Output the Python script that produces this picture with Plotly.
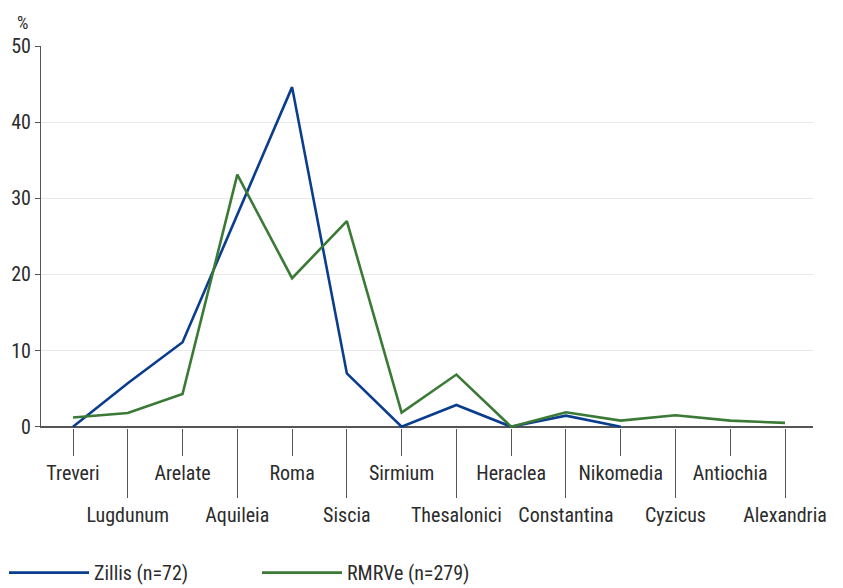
import plotly.graph_objects as go

categories = ["Treveri", "Lugdunum", "Arelate", "Aquileia", "Roma", "Siscia", "Sirmium",
              "Thesalonici", "Heraclea", "Constantina", "Nikomedia", "Cyzicus", "Antiochia", "Alexandria"]
zillis = [0.0, 5.7, 11.1, 27.9, 44.6, 7.0, 0.0, 2.85, 0.0, 1.45, 0.0, None, None, None]
rmrve = [1.2, 1.8, 4.3, 33.1, 19.5, 27.0, 1.85, 6.85, 0.0, 1.9, 0.8, 1.5, 0.8, 0.5]
y_ticks = [0, 10, 20, 30, 40, 50]

W, H = 843, 588
x_left, x_right = 41, 813
y_top, y_zero = 46, 427
px_per_unit = (y_zero - y_top) / 50.0
y_min = -0.17
plot_bottom = y_zero - y_min * px_per_unit
spacing = (785 - 73) / 13.0
x_range = [(x_left - 73) / spacing, (x_right - 73) / spacing]

FONT = "Liberation Sans Narrow, Roboto Condensed, Arial Narrow, Roboto, sans-serif"
TXT = "#2b2b2b"
AX = "#555555"

idx = list(range(len(categories)))
even = idx[0::2]
odd = idx[1::2]

fig = go.Figure()
fig.add_trace(go.Scatter(x=idx, y=zillis, mode="lines", name="Zillis (n=72)",
                         line=dict(color="#0b3d8e", width=2.6), connectgaps=False))
fig.add_trace(go.Scatter(x=idx, y=rmrve, mode="lines", name="RMRVe (n=279)",
                         line=dict(color="#3b7a36", width=2.6)))

def ppx(px):
    return (px - x_left) / (x_right - x_left)

def ppy(py):
    return (plot_bottom - py) / (plot_bottom - y_top)

fig.update_layout(
    width=W, height=H,
    margin=dict(l=x_left, r=W - x_right, t=y_top, b=H - plot_bottom, pad=0, autoexpand=False),
    plot_bgcolor="white", paper_bgcolor="white",
    font=dict(family=FONT, size=20, color=TXT),
    xaxis=dict(range=x_range, tickmode="array", tickvals=even,
               ticktext=[categories[i] for i in even],
               ticks="outside", ticklen=27, tickwidth=1.2, tickcolor=AX,
               showgrid=False, showline=False, zeroline=False, automargin=False,
               tickfont=dict(family=FONT, size=20, color=TXT)),
    xaxis2=dict(range=x_range, overlaying="x", anchor="y", side="bottom",
                tickmode="array", tickvals=odd,
                ticktext=[categories[i] for i in odd],
                ticks="outside", ticklen=69, tickwidth=1.2, tickcolor=AX,
                showgrid=False, showline=False, zeroline=False, automargin=False,
                tickfont=dict(family=FONT, size=20, color=TXT)),
    yaxis=dict(range=[y_min, 50], tickmode="array", tickvals=y_ticks,
               ticks="outside", ticklen=5, tickwidth=1.2, tickcolor=AX,
               showline=True, linecolor=AX, linewidth=1.2,
               showgrid=True, gridcolor="#e8e8e8", gridwidth=1,
               zeroline=True, zerolinecolor=AX, zerolinewidth=1.5, automargin=False,
               tickfont=dict(family=FONT, size=20, color=TXT)),
    showlegend=True,
    legend=dict(orientation="h", x=ppx(4), y=ppy(573), xanchor="left", yanchor="middle",
                itemwidth=80, entrywidth=158, entrywidthmode="pixels",
                font=dict(family=FONT, size=20, color=TXT), bgcolor="rgba(0,0,0,0)"),
    annotations=[dict(text="%", xref="paper", yref="paper", x=ppx(22), y=ppy(22),
                      xanchor="center", yanchor="middle",
                      showarrow=False, font=dict(family=FONT, size=18, color=TXT))],
)
# invisible trace on xaxis2 so the overlay axis is rendered
fig.add_trace(go.Scatter(x=[x_range[0]], y=[None], xaxis="x2", yaxis="y", mode="lines",
                         showlegend=False, hoverinfo="skip"))

fig.write_html("out.html", config={"displayModeBar": False},
               post_script="document.body.style.margin='0';document.body.style.overflow='hidden';")
